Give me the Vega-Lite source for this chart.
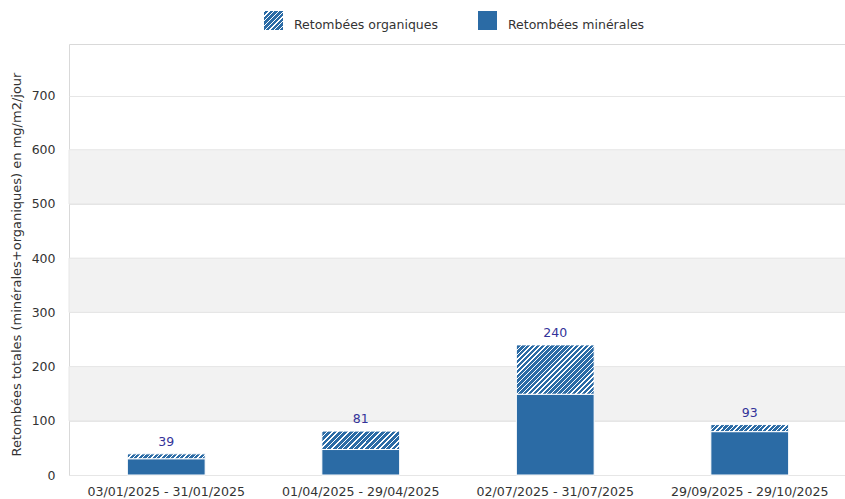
{
  "$schema": "https://vega.github.io/schema/vega-lite/v6.json",
  "width": 778,
  "height": 431,
  "autosize": "none",
  "padding": {"left": 69, "top": 44, "right": 0, "bottom": 24},
  "background": "white",
  "config": {
    "font": "DejaVu Sans",
    "view": {"stroke": "#d9d9d9", "strokeWidth": 1},
    "axisY": {"grid": true, "gridColor": "#e6e6e6", "domain": false, "ticks": false, "labelPadding": 14, "labelFontSize": 12.5, "labelColor": "#333333", "titleFontSize": 13, "titleFontWeight": "normal", "titleColor": "#333333", "titlePadding": 8, "titleY": 220, "values": [0, 100, 200, 300, 400, 500, 600, 700]},
    "axisX": {"grid": false, "domain": false, "ticks": false, "labelPadding": 10, "labelFontSize": 12.6, "labelColor": "#333333", "labelAngle": 0}
  },
  "datasets": {
    "mesures": [
      {"periode": "03/01/2025 - 31/01/2025", "type": "Retombées minérales", "valeur": 30},
      {"periode": "03/01/2025 - 31/01/2025", "type": "Retombées organiques", "valeur": 9},
      {"periode": "01/04/2025 - 29/04/2025", "type": "Retombées minérales", "valeur": 47},
      {"periode": "01/04/2025 - 29/04/2025", "type": "Retombées organiques", "valeur": 34},
      {"periode": "02/07/2025 - 31/07/2025", "type": "Retombées minérales", "valeur": 149},
      {"periode": "02/07/2025 - 31/07/2025", "type": "Retombées organiques", "valeur": 91},
      {"periode": "29/09/2025 - 29/10/2025", "type": "Retombées minérales", "valeur": 80},
      {"periode": "29/09/2025 - 29/10/2025", "type": "Retombées organiques", "valeur": 13}
    ],
    "bandes": [
      {"debut": 100, "fin": 200},
      {"debut": 300, "fin": 400},
      {"debut": 500, "fin": 600}
    ]
  },
  "layer": [
    {
      "data": {"name": "bandes"},
      "mark": {"type": "rect", "fill": "#f2f2f2", "stroke": "#e6e6e6", "strokeWidth": 1},
      "encoding": {
        "y": {"field": "debut", "type": "quantitative", "scale": {"domain": [0, 795], "nice": false}, "title": "Retombées totales (minérales+organiques) en mg/m2/jour"},
        "y2": {"field": "fin"}
      }
    },
    {
      "data": {"name": "mesures"},
      "transform": [
        {"stack": "valeur", "groupby": ["periode"], "sort": [{"field": "type", "order": "ascending"}], "as": ["y0", "y1"]},
        {"filter": "datum.type === 'Retombées minérales'"}
      ],
      "mark": {"type": "bar", "fill": "#2b6ba5", "strokeWidth": 1},
      "encoding": {
        "x": {"field": "periode", "type": "nominal", "title": null, "sort": ["03/01/2025 - 31/01/2025", "01/04/2025 - 29/04/2025", "02/07/2025 - 31/07/2025", "29/09/2025 - 29/10/2025"], "scale": {"paddingInner": 0.6, "paddingOuter": 0.3}},
        "y": {"field": "y0", "type": "quantitative", "title": "Retombées totales (minérales+organiques) en mg/m2/jour"},
        "y2": {"field": "y1"},
        "stroke": {
          "field": "type", "type": "nominal",
          "scale": {"domain": ["Retombées organiques", "Retombées minérales"], "range": ["#ffffff", "#ffffff"]},
          "legend": {
            "orient": "none", "legendX": 195, "legendY": -33, "direction": "horizontal", "title": null,
            "symbolType": "square", "symbolSize": 361, "symbolStrokeWidth": 0, "symbolOpacity": 1,
            "labelFontSize": 12.5, "labelColor": "#333333", "labelOffset": 11, "columnPadding": 40, "padding": 0,
            "encoding": {
              "symbols": {
                "fill": {
                  "condition": {"test": "datum.value === 'Retombées organiques'", "value": {"gradient": "linear", "x1": 0, "y1": 0, "x2": 1, "y2": 1, "stops": [
                    {"offset": 0, "color": "#ffffff"}, {"offset": 0.0375, "color": "#ffffff"}, {"offset": 0.0375, "color": "#2b6ba5"}, {"offset": 0.125, "color": "#2b6ba5"},
                    {"offset": 0.125, "color": "#ffffff"}, {"offset": 0.1625, "color": "#ffffff"}, {"offset": 0.1625, "color": "#2b6ba5"}, {"offset": 0.25, "color": "#2b6ba5"},
                    {"offset": 0.25, "color": "#ffffff"}, {"offset": 0.2875, "color": "#ffffff"}, {"offset": 0.2875, "color": "#2b6ba5"}, {"offset": 0.375, "color": "#2b6ba5"},
                    {"offset": 0.375, "color": "#ffffff"}, {"offset": 0.4125, "color": "#ffffff"}, {"offset": 0.4125, "color": "#2b6ba5"}, {"offset": 0.5, "color": "#2b6ba5"},
                    {"offset": 0.5, "color": "#ffffff"}, {"offset": 0.5375, "color": "#ffffff"}, {"offset": 0.5375, "color": "#2b6ba5"}, {"offset": 0.625, "color": "#2b6ba5"},
                    {"offset": 0.625, "color": "#ffffff"}, {"offset": 0.6625, "color": "#ffffff"}, {"offset": 0.6625, "color": "#2b6ba5"}, {"offset": 0.75, "color": "#2b6ba5"},
                    {"offset": 0.75, "color": "#ffffff"}, {"offset": 0.7875, "color": "#ffffff"}, {"offset": 0.7875, "color": "#2b6ba5"}, {"offset": 0.875, "color": "#2b6ba5"},
                    {"offset": 0.875, "color": "#ffffff"}, {"offset": 0.9125, "color": "#ffffff"}, {"offset": 0.9125, "color": "#2b6ba5"}, {"offset": 1, "color": "#2b6ba5"}
                  ]}},
                  "value": "#2b6ba5"
                }
              },
              "labels": {"dy": {"value": 4}}
            }
          }
        }
      }
    },
    {
      "data": {"name": "mesures"},
      "transform": [
        {"stack": "valeur", "groupby": ["periode"], "sort": [{"field": "type", "order": "ascending"}], "as": ["y0", "y1"]},
        {"filter": "datum.type === 'Retombées organiques' && datum.periode === '03/01/2025 - 31/01/2025'"}
      ],
      "mark": {"type": "bar", "stroke": "white", "strokeWidth": 1, "fill": {"gradient": "linear", "x1": 0, "y1": 0, "x2": 1.0588, "y2": 0.0667, "stops": [
        {"offset": 0, "color": "#ffffff"}, {"offset": 0.0167, "color": "#ffffff"}, {"offset": 0.0167, "color": "#2b6ba5"}, {"offset": 0.0556, "color": "#2b6ba5"},
        {"offset": 0.0556, "color": "#ffffff"}, {"offset": 0.0722, "color": "#ffffff"}, {"offset": 0.0722, "color": "#2b6ba5"}, {"offset": 0.1111, "color": "#2b6ba5"},
        {"offset": 0.1111, "color": "#ffffff"}, {"offset": 0.1278, "color": "#ffffff"}, {"offset": 0.1278, "color": "#2b6ba5"}, {"offset": 0.1667, "color": "#2b6ba5"},
        {"offset": 0.1667, "color": "#ffffff"}, {"offset": 0.1833, "color": "#ffffff"}, {"offset": 0.1833, "color": "#2b6ba5"}, {"offset": 0.2222, "color": "#2b6ba5"},
        {"offset": 0.2222, "color": "#ffffff"}, {"offset": 0.2389, "color": "#ffffff"}, {"offset": 0.2389, "color": "#2b6ba5"}, {"offset": 0.2778, "color": "#2b6ba5"},
        {"offset": 0.2778, "color": "#ffffff"}, {"offset": 0.2944, "color": "#ffffff"}, {"offset": 0.2944, "color": "#2b6ba5"}, {"offset": 0.3333, "color": "#2b6ba5"},
        {"offset": 0.3333, "color": "#ffffff"}, {"offset": 0.35, "color": "#ffffff"}, {"offset": 0.35, "color": "#2b6ba5"}, {"offset": 0.3889, "color": "#2b6ba5"},
        {"offset": 0.3889, "color": "#ffffff"}, {"offset": 0.4056, "color": "#ffffff"}, {"offset": 0.4056, "color": "#2b6ba5"}, {"offset": 0.4444, "color": "#2b6ba5"},
        {"offset": 0.4444, "color": "#ffffff"}, {"offset": 0.4611, "color": "#ffffff"}, {"offset": 0.4611, "color": "#2b6ba5"}, {"offset": 0.5, "color": "#2b6ba5"},
        {"offset": 0.5, "color": "#ffffff"}, {"offset": 0.5167, "color": "#ffffff"}, {"offset": 0.5167, "color": "#2b6ba5"}, {"offset": 0.5556, "color": "#2b6ba5"},
        {"offset": 0.5556, "color": "#ffffff"}, {"offset": 0.5722, "color": "#ffffff"}, {"offset": 0.5722, "color": "#2b6ba5"}, {"offset": 0.6111, "color": "#2b6ba5"},
        {"offset": 0.6111, "color": "#ffffff"}, {"offset": 0.6278, "color": "#ffffff"}, {"offset": 0.6278, "color": "#2b6ba5"}, {"offset": 0.6667, "color": "#2b6ba5"},
        {"offset": 0.6667, "color": "#ffffff"}, {"offset": 0.6833, "color": "#ffffff"}, {"offset": 0.6833, "color": "#2b6ba5"}, {"offset": 0.7222, "color": "#2b6ba5"},
        {"offset": 0.7222, "color": "#ffffff"}, {"offset": 0.7389, "color": "#ffffff"}, {"offset": 0.7389, "color": "#2b6ba5"}, {"offset": 0.7778, "color": "#2b6ba5"},
        {"offset": 0.7778, "color": "#ffffff"}, {"offset": 0.7944, "color": "#ffffff"}, {"offset": 0.7944, "color": "#2b6ba5"}, {"offset": 0.8333, "color": "#2b6ba5"},
        {"offset": 0.8333, "color": "#ffffff"}, {"offset": 0.85, "color": "#ffffff"}, {"offset": 0.85, "color": "#2b6ba5"}, {"offset": 0.8889, "color": "#2b6ba5"},
        {"offset": 0.8889, "color": "#ffffff"}, {"offset": 0.9056, "color": "#ffffff"}, {"offset": 0.9056, "color": "#2b6ba5"}, {"offset": 0.9444, "color": "#2b6ba5"},
        {"offset": 0.9444, "color": "#ffffff"}, {"offset": 0.9611, "color": "#ffffff"}, {"offset": 0.9611, "color": "#2b6ba5"}, {"offset": 1, "color": "#2b6ba5"}
      ]}},
      "encoding": {
        "x": {"field": "periode", "type": "nominal", "title": null, "sort": ["03/01/2025 - 31/01/2025", "01/04/2025 - 29/04/2025", "02/07/2025 - 31/07/2025", "29/09/2025 - 29/10/2025"]},
        "y": {"field": "y0", "type": "quantitative", "title": "Retombées totales (minérales+organiques) en mg/m2/jour"},
        "y2": {"field": "y1"}
      }
    },
    {
      "data": {"name": "mesures"},
      "transform": [
        {"stack": "valeur", "groupby": ["periode"], "sort": [{"field": "type", "order": "ascending"}], "as": ["y0", "y1"]},
        {"filter": "datum.type === 'Retombées organiques' && datum.periode === '01/04/2025 - 29/04/2025'"}
      ],
      "mark": {"type": "bar", "stroke": "white", "strokeWidth": 1, "fill": {"gradient": "linear", "x1": 0, "y1": 0, "x2": 1.171, "y2": 0.277, "stops": [
        {"offset": 0, "color": "#ffffff"}, {"offset": 0.0167, "color": "#ffffff"}, {"offset": 0.0167, "color": "#2b6ba5"}, {"offset": 0.0556, "color": "#2b6ba5"},
        {"offset": 0.0556, "color": "#ffffff"}, {"offset": 0.0722, "color": "#ffffff"}, {"offset": 0.0722, "color": "#2b6ba5"}, {"offset": 0.1111, "color": "#2b6ba5"},
        {"offset": 0.1111, "color": "#ffffff"}, {"offset": 0.1278, "color": "#ffffff"}, {"offset": 0.1278, "color": "#2b6ba5"}, {"offset": 0.1667, "color": "#2b6ba5"},
        {"offset": 0.1667, "color": "#ffffff"}, {"offset": 0.1833, "color": "#ffffff"}, {"offset": 0.1833, "color": "#2b6ba5"}, {"offset": 0.2222, "color": "#2b6ba5"},
        {"offset": 0.2222, "color": "#ffffff"}, {"offset": 0.2389, "color": "#ffffff"}, {"offset": 0.2389, "color": "#2b6ba5"}, {"offset": 0.2778, "color": "#2b6ba5"},
        {"offset": 0.2778, "color": "#ffffff"}, {"offset": 0.2944, "color": "#ffffff"}, {"offset": 0.2944, "color": "#2b6ba5"}, {"offset": 0.3333, "color": "#2b6ba5"},
        {"offset": 0.3333, "color": "#ffffff"}, {"offset": 0.35, "color": "#ffffff"}, {"offset": 0.35, "color": "#2b6ba5"}, {"offset": 0.3889, "color": "#2b6ba5"},
        {"offset": 0.3889, "color": "#ffffff"}, {"offset": 0.4056, "color": "#ffffff"}, {"offset": 0.4056, "color": "#2b6ba5"}, {"offset": 0.4444, "color": "#2b6ba5"},
        {"offset": 0.4444, "color": "#ffffff"}, {"offset": 0.4611, "color": "#ffffff"}, {"offset": 0.4611, "color": "#2b6ba5"}, {"offset": 0.5, "color": "#2b6ba5"},
        {"offset": 0.5, "color": "#ffffff"}, {"offset": 0.5167, "color": "#ffffff"}, {"offset": 0.5167, "color": "#2b6ba5"}, {"offset": 0.5556, "color": "#2b6ba5"},
        {"offset": 0.5556, "color": "#ffffff"}, {"offset": 0.5722, "color": "#ffffff"}, {"offset": 0.5722, "color": "#2b6ba5"}, {"offset": 0.6111, "color": "#2b6ba5"},
        {"offset": 0.6111, "color": "#ffffff"}, {"offset": 0.6278, "color": "#ffffff"}, {"offset": 0.6278, "color": "#2b6ba5"}, {"offset": 0.6667, "color": "#2b6ba5"},
        {"offset": 0.6667, "color": "#ffffff"}, {"offset": 0.6833, "color": "#ffffff"}, {"offset": 0.6833, "color": "#2b6ba5"}, {"offset": 0.7222, "color": "#2b6ba5"},
        {"offset": 0.7222, "color": "#ffffff"}, {"offset": 0.7389, "color": "#ffffff"}, {"offset": 0.7389, "color": "#2b6ba5"}, {"offset": 0.7778, "color": "#2b6ba5"},
        {"offset": 0.7778, "color": "#ffffff"}, {"offset": 0.7944, "color": "#ffffff"}, {"offset": 0.7944, "color": "#2b6ba5"}, {"offset": 0.8333, "color": "#2b6ba5"},
        {"offset": 0.8333, "color": "#ffffff"}, {"offset": 0.85, "color": "#ffffff"}, {"offset": 0.85, "color": "#2b6ba5"}, {"offset": 0.8889, "color": "#2b6ba5"},
        {"offset": 0.8889, "color": "#ffffff"}, {"offset": 0.9056, "color": "#ffffff"}, {"offset": 0.9056, "color": "#2b6ba5"}, {"offset": 0.9444, "color": "#2b6ba5"},
        {"offset": 0.9444, "color": "#ffffff"}, {"offset": 0.9611, "color": "#ffffff"}, {"offset": 0.9611, "color": "#2b6ba5"}, {"offset": 1, "color": "#2b6ba5"}
      ]}},
      "encoding": {
        "x": {"field": "periode", "type": "nominal", "title": null, "sort": ["03/01/2025 - 31/01/2025", "01/04/2025 - 29/04/2025", "02/07/2025 - 31/07/2025", "29/09/2025 - 29/10/2025"]},
        "y": {"field": "y0", "type": "quantitative", "title": "Retombées totales (minérales+organiques) en mg/m2/jour"},
        "y2": {"field": "y1"}
      }
    },
    {
      "data": {"name": "mesures"},
      "transform": [
        {"stack": "valeur", "groupby": ["periode"], "sort": [{"field": "type", "order": "ascending"}], "as": ["y0", "y1"]},
        {"filter": "datum.type === 'Retombées organiques' && datum.periode === '02/07/2025 - 31/07/2025'"}
      ],
      "mark": {"type": "bar", "stroke": "white", "strokeWidth": 1, "fill": {"gradient": "linear", "x1": 0, "y1": 0, "x2": 1.1656, "y2": 0.7386, "stops": [
        {"offset": 0, "color": "#ffffff"}, {"offset": 0.0115, "color": "#ffffff"}, {"offset": 0.0115, "color": "#2b6ba5"}, {"offset": 0.0385, "color": "#2b6ba5"},
        {"offset": 0.0385, "color": "#ffffff"}, {"offset": 0.05, "color": "#ffffff"}, {"offset": 0.05, "color": "#2b6ba5"}, {"offset": 0.0769, "color": "#2b6ba5"},
        {"offset": 0.0769, "color": "#ffffff"}, {"offset": 0.0885, "color": "#ffffff"}, {"offset": 0.0885, "color": "#2b6ba5"}, {"offset": 0.1154, "color": "#2b6ba5"},
        {"offset": 0.1154, "color": "#ffffff"}, {"offset": 0.1269, "color": "#ffffff"}, {"offset": 0.1269, "color": "#2b6ba5"}, {"offset": 0.1538, "color": "#2b6ba5"},
        {"offset": 0.1538, "color": "#ffffff"}, {"offset": 0.1654, "color": "#ffffff"}, {"offset": 0.1654, "color": "#2b6ba5"}, {"offset": 0.1923, "color": "#2b6ba5"},
        {"offset": 0.1923, "color": "#ffffff"}, {"offset": 0.2038, "color": "#ffffff"}, {"offset": 0.2038, "color": "#2b6ba5"}, {"offset": 0.2308, "color": "#2b6ba5"},
        {"offset": 0.2308, "color": "#ffffff"}, {"offset": 0.2423, "color": "#ffffff"}, {"offset": 0.2423, "color": "#2b6ba5"}, {"offset": 0.2692, "color": "#2b6ba5"},
        {"offset": 0.2692, "color": "#ffffff"}, {"offset": 0.2808, "color": "#ffffff"}, {"offset": 0.2808, "color": "#2b6ba5"}, {"offset": 0.3077, "color": "#2b6ba5"},
        {"offset": 0.3077, "color": "#ffffff"}, {"offset": 0.3192, "color": "#ffffff"}, {"offset": 0.3192, "color": "#2b6ba5"}, {"offset": 0.3462, "color": "#2b6ba5"},
        {"offset": 0.3462, "color": "#ffffff"}, {"offset": 0.3577, "color": "#ffffff"}, {"offset": 0.3577, "color": "#2b6ba5"}, {"offset": 0.3846, "color": "#2b6ba5"},
        {"offset": 0.3846, "color": "#ffffff"}, {"offset": 0.3962, "color": "#ffffff"}, {"offset": 0.3962, "color": "#2b6ba5"}, {"offset": 0.4231, "color": "#2b6ba5"},
        {"offset": 0.4231, "color": "#ffffff"}, {"offset": 0.4346, "color": "#ffffff"}, {"offset": 0.4346, "color": "#2b6ba5"}, {"offset": 0.4615, "color": "#2b6ba5"},
        {"offset": 0.4615, "color": "#ffffff"}, {"offset": 0.4731, "color": "#ffffff"}, {"offset": 0.4731, "color": "#2b6ba5"}, {"offset": 0.5, "color": "#2b6ba5"},
        {"offset": 0.5, "color": "#ffffff"}, {"offset": 0.5115, "color": "#ffffff"}, {"offset": 0.5115, "color": "#2b6ba5"}, {"offset": 0.5385, "color": "#2b6ba5"},
        {"offset": 0.5385, "color": "#ffffff"}, {"offset": 0.55, "color": "#ffffff"}, {"offset": 0.55, "color": "#2b6ba5"}, {"offset": 0.5769, "color": "#2b6ba5"},
        {"offset": 0.5769, "color": "#ffffff"}, {"offset": 0.5885, "color": "#ffffff"}, {"offset": 0.5885, "color": "#2b6ba5"}, {"offset": 0.6154, "color": "#2b6ba5"},
        {"offset": 0.6154, "color": "#ffffff"}, {"offset": 0.6269, "color": "#ffffff"}, {"offset": 0.6269, "color": "#2b6ba5"}, {"offset": 0.6538, "color": "#2b6ba5"},
        {"offset": 0.6538, "color": "#ffffff"}, {"offset": 0.6654, "color": "#ffffff"}, {"offset": 0.6654, "color": "#2b6ba5"}, {"offset": 0.6923, "color": "#2b6ba5"},
        {"offset": 0.6923, "color": "#ffffff"}, {"offset": 0.7038, "color": "#ffffff"}, {"offset": 0.7038, "color": "#2b6ba5"}, {"offset": 0.7308, "color": "#2b6ba5"},
        {"offset": 0.7308, "color": "#ffffff"}, {"offset": 0.7423, "color": "#ffffff"}, {"offset": 0.7423, "color": "#2b6ba5"}, {"offset": 0.7692, "color": "#2b6ba5"},
        {"offset": 0.7692, "color": "#ffffff"}, {"offset": 0.7808, "color": "#ffffff"}, {"offset": 0.7808, "color": "#2b6ba5"}, {"offset": 0.8077, "color": "#2b6ba5"},
        {"offset": 0.8077, "color": "#ffffff"}, {"offset": 0.8192, "color": "#ffffff"}, {"offset": 0.8192, "color": "#2b6ba5"}, {"offset": 0.8462, "color": "#2b6ba5"},
        {"offset": 0.8462, "color": "#ffffff"}, {"offset": 0.8577, "color": "#ffffff"}, {"offset": 0.8577, "color": "#2b6ba5"}, {"offset": 0.8846, "color": "#2b6ba5"},
        {"offset": 0.8846, "color": "#ffffff"}, {"offset": 0.8962, "color": "#ffffff"}, {"offset": 0.8962, "color": "#2b6ba5"}, {"offset": 0.9231, "color": "#2b6ba5"},
        {"offset": 0.9231, "color": "#ffffff"}, {"offset": 0.9346, "color": "#ffffff"}, {"offset": 0.9346, "color": "#2b6ba5"}, {"offset": 0.9615, "color": "#2b6ba5"},
        {"offset": 0.9615, "color": "#ffffff"}, {"offset": 0.9731, "color": "#ffffff"}, {"offset": 0.9731, "color": "#2b6ba5"}, {"offset": 1, "color": "#2b6ba5"}
      ]}},
      "encoding": {
        "x": {"field": "periode", "type": "nominal", "title": null, "sort": ["03/01/2025 - 31/01/2025", "01/04/2025 - 29/04/2025", "02/07/2025 - 31/07/2025", "29/09/2025 - 29/10/2025"]},
        "y": {"field": "y0", "type": "quantitative", "title": "Retombées totales (minérales+organiques) en mg/m2/jour"},
        "y2": {"field": "y1"}
      }
    },
    {
      "data": {"name": "mesures"},
      "transform": [
        {"stack": "valeur", "groupby": ["periode"], "sort": [{"field": "type", "order": "ascending"}], "as": ["y0", "y1"]},
        {"filter": "datum.type === 'Retombées organiques' && datum.periode === '29/09/2025 - 29/10/2025'"}
      ],
      "mark": {"type": "bar", "stroke": "white", "strokeWidth": 1, "fill": {"gradient": "linear", "x1": 0, "y1": 0, "x2": 1.0812, "y2": 0.0973, "stops": [
        {"offset": 0, "color": "#ffffff"}, {"offset": 0.0167, "color": "#ffffff"}, {"offset": 0.0167, "color": "#2b6ba5"}, {"offset": 0.0556, "color": "#2b6ba5"},
        {"offset": 0.0556, "color": "#ffffff"}, {"offset": 0.0722, "color": "#ffffff"}, {"offset": 0.0722, "color": "#2b6ba5"}, {"offset": 0.1111, "color": "#2b6ba5"},
        {"offset": 0.1111, "color": "#ffffff"}, {"offset": 0.1278, "color": "#ffffff"}, {"offset": 0.1278, "color": "#2b6ba5"}, {"offset": 0.1667, "color": "#2b6ba5"},
        {"offset": 0.1667, "color": "#ffffff"}, {"offset": 0.1833, "color": "#ffffff"}, {"offset": 0.1833, "color": "#2b6ba5"}, {"offset": 0.2222, "color": "#2b6ba5"},
        {"offset": 0.2222, "color": "#ffffff"}, {"offset": 0.2389, "color": "#ffffff"}, {"offset": 0.2389, "color": "#2b6ba5"}, {"offset": 0.2778, "color": "#2b6ba5"},
        {"offset": 0.2778, "color": "#ffffff"}, {"offset": 0.2944, "color": "#ffffff"}, {"offset": 0.2944, "color": "#2b6ba5"}, {"offset": 0.3333, "color": "#2b6ba5"},
        {"offset": 0.3333, "color": "#ffffff"}, {"offset": 0.35, "color": "#ffffff"}, {"offset": 0.35, "color": "#2b6ba5"}, {"offset": 0.3889, "color": "#2b6ba5"},
        {"offset": 0.3889, "color": "#ffffff"}, {"offset": 0.4056, "color": "#ffffff"}, {"offset": 0.4056, "color": "#2b6ba5"}, {"offset": 0.4444, "color": "#2b6ba5"},
        {"offset": 0.4444, "color": "#ffffff"}, {"offset": 0.4611, "color": "#ffffff"}, {"offset": 0.4611, "color": "#2b6ba5"}, {"offset": 0.5, "color": "#2b6ba5"},
        {"offset": 0.5, "color": "#ffffff"}, {"offset": 0.5167, "color": "#ffffff"}, {"offset": 0.5167, "color": "#2b6ba5"}, {"offset": 0.5556, "color": "#2b6ba5"},
        {"offset": 0.5556, "color": "#ffffff"}, {"offset": 0.5722, "color": "#ffffff"}, {"offset": 0.5722, "color": "#2b6ba5"}, {"offset": 0.6111, "color": "#2b6ba5"},
        {"offset": 0.6111, "color": "#ffffff"}, {"offset": 0.6278, "color": "#ffffff"}, {"offset": 0.6278, "color": "#2b6ba5"}, {"offset": 0.6667, "color": "#2b6ba5"},
        {"offset": 0.6667, "color": "#ffffff"}, {"offset": 0.6833, "color": "#ffffff"}, {"offset": 0.6833, "color": "#2b6ba5"}, {"offset": 0.7222, "color": "#2b6ba5"},
        {"offset": 0.7222, "color": "#ffffff"}, {"offset": 0.7389, "color": "#ffffff"}, {"offset": 0.7389, "color": "#2b6ba5"}, {"offset": 0.7778, "color": "#2b6ba5"},
        {"offset": 0.7778, "color": "#ffffff"}, {"offset": 0.7944, "color": "#ffffff"}, {"offset": 0.7944, "color": "#2b6ba5"}, {"offset": 0.8333, "color": "#2b6ba5"},
        {"offset": 0.8333, "color": "#ffffff"}, {"offset": 0.85, "color": "#ffffff"}, {"offset": 0.85, "color": "#2b6ba5"}, {"offset": 0.8889, "color": "#2b6ba5"},
        {"offset": 0.8889, "color": "#ffffff"}, {"offset": 0.9056, "color": "#ffffff"}, {"offset": 0.9056, "color": "#2b6ba5"}, {"offset": 0.9444, "color": "#2b6ba5"},
        {"offset": 0.9444, "color": "#ffffff"}, {"offset": 0.9611, "color": "#ffffff"}, {"offset": 0.9611, "color": "#2b6ba5"}, {"offset": 1, "color": "#2b6ba5"}
      ]}},
      "encoding": {
        "x": {"field": "periode", "type": "nominal", "title": null, "sort": ["03/01/2025 - 31/01/2025", "01/04/2025 - 29/04/2025", "02/07/2025 - 31/07/2025", "29/09/2025 - 29/10/2025"]},
        "y": {"field": "y0", "type": "quantitative", "title": "Retombées totales (minérales+organiques) en mg/m2/jour"},
        "y2": {"field": "y1"}
      }
    },
    {
      "data": {"name": "mesures"},
      "transform": [
        {"stack": "valeur", "groupby": ["periode"], "sort": [{"field": "type", "order": "ascending"}], "as": ["y0", "y1"]},
        {"filter": "datum.type === 'Retombées organiques'"}
      ],
      "mark": {"type": "text", "baseline": "bottom", "dy": -5, "fontSize": 12.5, "fill": "#333399"},
      "encoding": {
        "x": {"field": "periode", "type": "nominal", "title": null, "sort": ["03/01/2025 - 31/01/2025", "01/04/2025 - 29/04/2025", "02/07/2025 - 31/07/2025", "29/09/2025 - 29/10/2025"]},
        "y": {"field": "y1", "type": "quantitative", "title": "Retombées totales (minérales+organiques) en mg/m2/jour"},
        "text": {"field": "y1", "type": "quantitative", "format": "d"}
      }
    }
  ]
}
